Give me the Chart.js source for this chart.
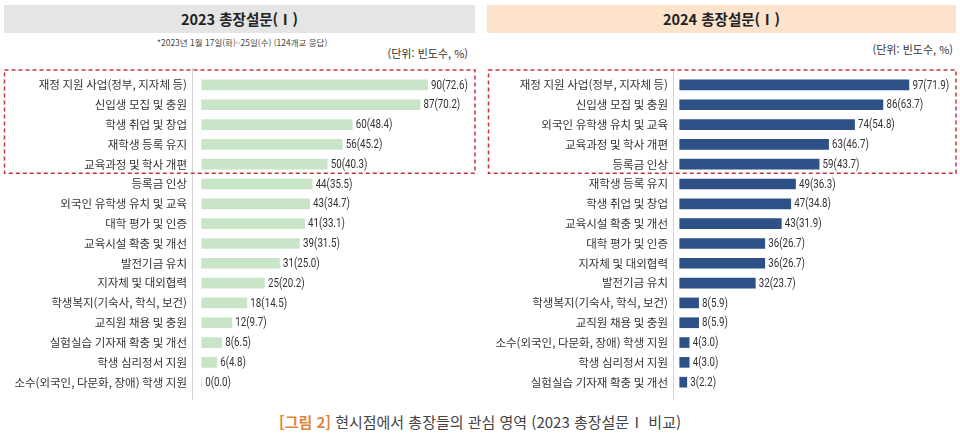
<!DOCTYPE html>
<html lang="ko">
<head>
<meta charset="utf-8">
<script src="https://cdn.jsdelivr.net/npm/chart.js@4.4.1/dist/chart.umd.min.js"></script>
<style>
  body { margin: 0; width: 960px; height: 434px; background: #fff; position: relative; overflow: hidden;
         font-family: "Noto Sans CJK KR", "Noto Sans", sans-serif; color: #333; }
  .head { position: absolute; top: 5px; height: 28px; line-height: 28px; text-align: center;
          font-weight: bold; font-size: 14.5px; color: #222; }
  .note { position: absolute; font-size: 8.5px; color: #444; white-space: nowrap; }
  .unit { position: absolute; font-size: 11px; color: #333; white-space: nowrap; }
  .box { position: absolute; top: 60px; width: 480px; height: 345px; }
  .caption { position: absolute; left: 0; width: 960px; top: 411px; text-align: center;
             font-size: 15px; color: #444; }
  .caption b { color: #e5823a; }
</style>
</head>
<body>
<div class="head" style="left:4px; width:471px; background:#e5e5e5;">2023 총장설문(Ⅰ)</div>
<div class="head" style="left:487px; width:469px; background:#fde3cb;">2024 총장설문(Ⅰ)</div>
<div class="note" style="left:157px; top:36px;">*2023년 1월 17일(화)~25일(수) (124개교 응답)</div>
<div class="unit" style="right:492px; top:45px;">(단위: 빈도수, %)</div>
<div class="unit" style="right:7px; top:41px;">(단위: 빈도수, %)</div>
<div class="box" style="left:0;"><canvas id="chart2023"></canvas></div>
<div class="box" style="left:480px;"><canvas id="chart2024"></canvas></div>
<div class="caption"><b>[그림 2]</b> 현시점에서 총장들의 관심 영역 (2023 총장설문Ⅰ 비교)</div>

<script>
// 2023 survey
var labels2023 = ["재정 지원 사업(정부, 지자체 등)", "신입생 모집 및 충원", "학생 취업 및 창업", "재학생 등록 유지",
  "교육과정 및 학사 개편", "등록금 인상", "외국인 유학생 유치 및 교육", "대학 평가 및 인증", "교육시설 확충 및 개선",
  "발전기금 유치", "지자체 및 대외협력", "학생복지(기숙사, 학식, 보건)", "교직원 채용 및 충원",
  "실험실습 기자재 확충 및 개선", "학생 심리정서 지원", "소수(외국인, 다문화, 장애) 학생 지원"];
var counts2023 = [90, 87, 60, 56, 50, 44, 43, 41, 39, 31, 25, 18, 12, 8, 6, 0];
var pct2023 = [72.6, 70.2, 48.4, 45.2, 40.3, 35.5, 34.7, 33.1, 31.5, 25.0, 20.2, 14.5, 9.7, 6.5, 4.8, 0.0];

// 2024 survey
var labels2024 = ["재정 지원 사업(정부, 지자체 등)", "신입생 모집 및 충원", "외국인 유학생 유치 및 교육",
  "교육과정 및 학사 개편", "등록금 인상", "재학생 등록 유지", "학생 취업 및 창업", "교육시설 확충 및 개선",
  "대학 평가 및 인증", "지자체 및 대외협력", "발전기금 유치", "학생복지(기숙사, 학식, 보건)", "교직원 채용 및 충원",
  "소수(외국인, 다문화, 장애) 학생 지원", "학생 심리정서 지원", "실험실습 기자재 확충 및 개선"];
var counts2024 = [97, 86, 74, 63, 59, 49, 47, 43, 36, 36, 32, 8, 8, 4, 4, 3];
var pct2024 = [71.9, 63.7, 54.8, 46.7, 43.7, 36.3, 34.8, 31.9, 26.7, 26.7, 23.7, 5.9, 5.9, 3.0, 3.0, 2.2];

// axis line + red dashed box round the top 5
var frame = {
  id: 'frame',
  afterDatasetsDraw: function(chart, args, opts) {
    var ctx = chart.ctx, area = chart.chartArea, y = chart.scales.y;
    ctx.save();
    ctx.strokeStyle = '#d2d2d2';
    ctx.lineWidth = 1;
    ctx.beginPath();
    ctx.moveTo(area.left - 0.5, 8);
    ctx.lineTo(area.left - 0.5, 340);
    ctx.stroke();
    var top = y.getPixelForTick(0) - 15;
    var bottom = y.getPixelForTick(4) + 9;
    ctx.setLineDash([4, 3]);
    ctx.strokeStyle = '#c7343d';
    ctx.lineWidth = 1.5;
    ctx.strokeRect(opts.left, top, opts.right - opts.left, bottom - top);
    ctx.restore();
  }
};

// "90(72.6)" labels at bar ends
var valueLabels = {
  id: 'valueLabels',
  afterDatasetsDraw: function(chart) {
    var ctx = chart.ctx, area = chart.chartArea;
    var ds = chart.data.datasets[0];
    ctx.save();
    ctx.font = '12.5px Roboto';
    ctx.fillStyle = '#333';
    ctx.textBaseline = 'middle';
    chart.getDatasetMeta(0).data.forEach(function(bar, i) {
      ctx.save();
      ctx.translate(Math.max(bar.x, area.left) + 3.5, bar.y + 0.5);
      ctx.scale(0.78, 1);
      ctx.fillText(ds.data[i] + '(' + ds.pct[i].toFixed(1) + ')', 0, 0);
      ctx.restore();
    });
    ctx.restore();
  }
};

function makeChart(id, labels, counts, pct, color, xMin, padRight, axisWidth, boxLeft, boxRight) {
  return new Chart(document.getElementById(id), {
    type: 'bar',
    data: {
      labels: labels,
      datasets: [{ data: counts, pct: pct, backgroundColor: color, barThickness: 10, clip: 0 }]
    },
    options: {
      indexAxis: 'y',
      responsive: true,
      maintainAspectRatio: false,
      animation: false,
      layout: { padding: { top: 15, bottom: 9, left: 0, right: padRight } },
      plugins: {
        legend: { display: false },
        tooltip: { enabled: false },
        frame: { left: boxLeft, right: boxRight }
      },
      scales: {
        x: { display: false, min: xMin, max: 100 },
        y: {
          grid: { display: false, drawTicks: false },
          border: { display: false },
          ticks: { padding: 6, color: '#333', font: { family: 'Noto Sans CJK KR', size: 11.5 } },
          afterFit: function(scale) { scale.width = axisWidth; }
        }
      }
    },
    plugins: [frame, valueLabels]
  });
}

makeChart('chart2023', labels2023, counts2023, pct2023, '#c8e6c7', -3.46, 27.3, 193, 4.5, 475);
makeChart('chart2024', labels2024, counts2024, pct2024, '#2d5186', -2.42, 44, 194, 8.5, 476);
</script>
</body>
</html>
